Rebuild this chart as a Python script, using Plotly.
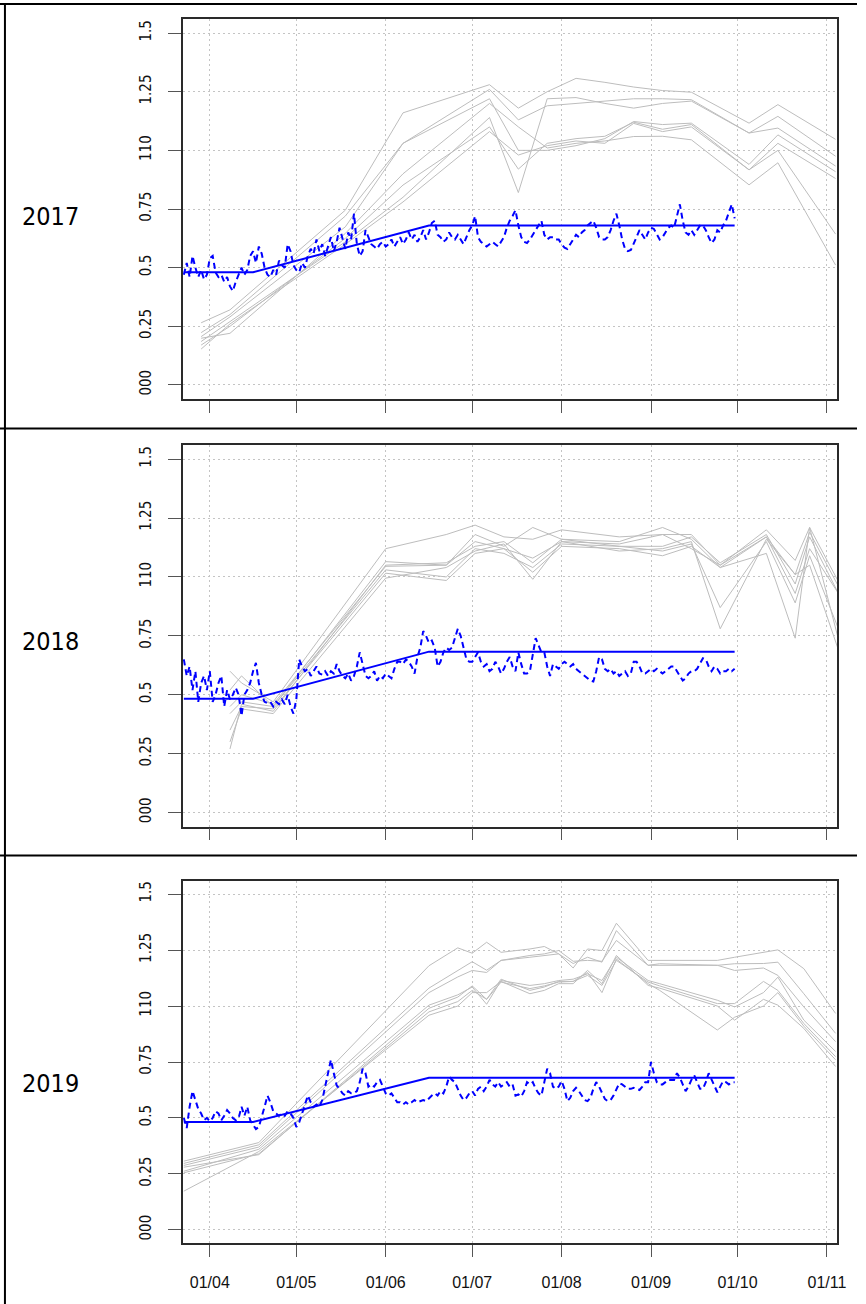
import plotly.graph_objects as go
import pandas as pd

W, H = 866, 1304

years = [2017, 2018, 2019]
month_ticks = ["04-01", "05-01", "06-01", "07-01", "08-01", "09-01", "10-01", "11-01"]
month_labels = ["01/04", "01/05", "01/06", "01/07", "01/08", "01/09", "01/10", "01/11"]
y_ticks = [0, 0.25, 0.5, 0.75, 1.0, 1.25, 1.5]
y_labels = ["000", "0.25", "0.5", "0.75", "110", "1.25", "1.5"]

# solid blue reference curve (vertices)
kc_dates = ["03-23", "04-16", "06-16", "09-30"]
kc_2017 = [0.48, 0.48, 0.68, 0.68]
kc_2018 = [0.483, 0.483, 0.683, 0.683]
kc_2019 = [0.482, 0.482, 0.68, 0.68]

# dashed blue daily series, 23 Mar .. 30 Sep
daily_start = "03-23"
daily_2017 = [
    0.47, 0.52, 0.46, 0.55, 0.50, 0.46, 0.49, 0.45, 0.47, 0.54,
    0.55, 0.48, 0.46, 0.47, 0.44, 0.46, 0.42, 0.40, 0.44, 0.47,
    0.50, 0.47, 0.49, 0.55, 0.57, 0.52, 0.59, 0.56, 0.50, 0.47,
    0.46, 0.49, 0.47, 0.53, 0.51, 0.50, 0.60, 0.57, 0.51, 0.49,
    0.48, 0.52, 0.50, 0.55, 0.58, 0.56, 0.62, 0.57, 0.60, 0.55,
    0.59, 0.63, 0.57, 0.61, 0.67, 0.62, 0.58, 0.65, 0.62, 0.73,
    0.60, 0.55, 0.57, 0.66, 0.63, 0.60, 0.59, 0.58, 0.60, 0.61,
    0.59, 0.60, 0.62, 0.59, 0.61, 0.63, 0.60, 0.62, 0.65, 0.62,
    0.64, 0.61, 0.63, 0.66, 0.62, 0.65, 0.69, 0.70, 0.64, 0.63,
    0.61, 0.62, 0.65, 0.63, 0.62, 0.64, 0.62, 0.60, 0.63, 0.66,
    0.68, 0.72, 0.63, 0.61, 0.60, 0.59, 0.60, 0.61, 0.60, 0.59,
    0.61, 0.63, 0.67, 0.70, 0.72, 0.745, 0.68, 0.63, 0.61, 0.605,
    0.62, 0.64, 0.66, 0.68, 0.70, 0.64, 0.62, 0.63, 0.63, 0.62,
    0.62, 0.60, 0.585, 0.58, 0.60, 0.62, 0.64, 0.63, 0.65, 0.66,
    0.68, 0.69, 0.70, 0.67, 0.63, 0.62, 0.62, 0.63, 0.66, 0.70,
    0.73, 0.68, 0.62, 0.58, 0.57, 0.575, 0.60, 0.63, 0.66, 0.64,
    0.62, 0.65, 0.67, 0.665, 0.64, 0.62, 0.63, 0.65, 0.67, 0.68,
    0.67, 0.72, 0.77, 0.70, 0.65, 0.64, 0.66, 0.64, 0.66, 0.68,
    0.68, 0.66, 0.63, 0.605, 0.62, 0.66, 0.65, 0.68, 0.70, 0.74,
    0.77, 0.71,
]
daily_2018 = [
    0.65, 0.58, 0.62, 0.52, 0.60, 0.47, 0.55, 0.58, 0.52, 0.60,
    0.47, 0.50, 0.55, 0.58, 0.45, 0.52, 0.48, 0.50, 0.53, 0.50,
    0.41, 0.50, 0.52, 0.55, 0.60, 0.635, 0.55, 0.50, 0.47, 0.465,
    0.47, 0.45, 0.47, 0.46, 0.48, 0.46, 0.50, 0.45, 0.42, 0.48,
    0.65, 0.62, 0.60, 0.61, 0.58, 0.60, 0.62, 0.59, 0.585, 0.60,
    0.58, 0.60, 0.59, 0.63, 0.60, 0.58, 0.57, 0.59, 0.56, 0.58,
    0.62, 0.68, 0.63, 0.58, 0.57, 0.58, 0.60, 0.56, 0.58, 0.57,
    0.59, 0.58, 0.57, 0.61, 0.64, 0.64, 0.63, 0.65, 0.64, 0.62,
    0.59, 0.66, 0.70, 0.77, 0.75, 0.72, 0.73, 0.70, 0.62, 0.64,
    0.68, 0.70, 0.69, 0.70, 0.74, 0.78, 0.75, 0.70, 0.65, 0.64,
    0.64, 0.66, 0.68, 0.64, 0.62, 0.63, 0.60, 0.61, 0.64, 0.62,
    0.59, 0.61, 0.64, 0.66, 0.62, 0.60, 0.68, 0.63, 0.59, 0.59,
    0.60, 0.67, 0.74, 0.71, 0.68, 0.68, 0.62, 0.58, 0.63, 0.62,
    0.61, 0.63, 0.64, 0.63, 0.62, 0.63, 0.61, 0.60, 0.59, 0.58,
    0.57, 0.56, 0.556, 0.60, 0.66, 0.65, 0.61, 0.60, 0.61, 0.59,
    0.60, 0.58, 0.59, 0.60, 0.58, 0.59, 0.64, 0.64, 0.62, 0.59,
    0.59, 0.60, 0.61, 0.60, 0.61, 0.60, 0.59, 0.60, 0.61, 0.62,
    0.62, 0.60, 0.58, 0.56, 0.57, 0.59, 0.60, 0.60, 0.61, 0.63,
    0.655, 0.65, 0.62, 0.60, 0.62, 0.61, 0.59, 0.60, 0.60, 0.61,
    0.60, 0.61,
]
daily_2019 = [
    0.50, 0.455, 0.55, 0.62, 0.58, 0.54, 0.52, 0.49, 0.50, 0.485,
    0.50, 0.53, 0.52, 0.49, 0.51, 0.535, 0.52, 0.50, 0.49, 0.50,
    0.55, 0.51, 0.55, 0.49, 0.47, 0.45, 0.46, 0.50, 0.55, 0.60,
    0.57, 0.53, 0.52, 0.51, 0.52, 0.51, 0.53, 0.52, 0.50, 0.46,
    0.48, 0.52, 0.56, 0.60, 0.57, 0.55, 0.56, 0.55, 0.58, 0.64,
    0.70, 0.76, 0.70, 0.645, 0.63, 0.61, 0.60, 0.62, 0.61, 0.61,
    0.62, 0.66, 0.72, 0.70, 0.64, 0.65, 0.64, 0.66, 0.67, 0.64,
    0.61, 0.60, 0.61, 0.59, 0.57, 0.57, 0.56, 0.57, 0.56, 0.57,
    0.58, 0.57, 0.575, 0.58, 0.575, 0.59, 0.60, 0.61, 0.60, 0.62,
    0.61, 0.64, 0.685, 0.67, 0.66, 0.63, 0.60, 0.58, 0.59, 0.61,
    0.62, 0.60, 0.63, 0.64, 0.62, 0.64, 0.67, 0.65, 0.64, 0.66,
    0.64, 0.65, 0.66, 0.64, 0.65, 0.60, 0.605, 0.595, 0.62, 0.66,
    0.65, 0.66, 0.63, 0.61, 0.60, 0.66, 0.72, 0.70, 0.64, 0.63,
    0.64, 0.665, 0.63, 0.575, 0.59, 0.62, 0.635, 0.62, 0.60, 0.58,
    0.575, 0.59, 0.63, 0.66, 0.64, 0.61, 0.585, 0.575, 0.58, 0.60,
    0.63, 0.655, 0.65, 0.64, 0.63, 0.63, 0.635, 0.63, 0.625, 0.64,
    0.66, 0.66, 0.75, 0.70, 0.66, 0.65, 0.65, 0.66, 0.67, 0.67,
    0.67, 0.70, 0.68, 0.65, 0.62, 0.64, 0.67, 0.69, 0.66, 0.63,
    0.63, 0.66, 0.70, 0.67, 0.64, 0.615, 0.64, 0.665, 0.66, 0.65,
    0.66, 0.66,
]

# grey satellite curves
gray_dates_2017 = ["03-29", "04-08", "05-18", "06-07", "07-07", "07-17", "07-27", "08-06",
                   "08-16", "08-26", "09-05", "09-15", "10-05", "10-15", "11-04"]
gray_2017 = [
    [0.265, 0.32, 0.745, 1.16, 1.28, 1.18, 1.25, 1.307, 1.29, 1.27, 1.255, 1.248, 1.116, 1.195, 1.047],
    [0.223, 0.30, 0.72, 1.03, 1.26, 1.13, 1.19, 1.20, 1.21, 1.22, 1.22, 1.216, 1.074, 1.145, 0.975],
    [0.185, 0.27, 0.61, 0.80, 1.14, 0.82, 1.22, 1.225, 1.20, 1.18, 1.20, 1.21, 1.074, 1.095, 0.933],
    [0.206, 0.29, 0.674, 1.03, 1.22, 1.00, 1.00, 1.02, 1.05, 1.123, 1.11, 1.116, 0.94, 1.066, 0.909],
    [0.170, 0.25, 0.625, 0.852, 1.10, 0.92, 1.03, 1.05, 1.06, 1.12, 1.09, 1.11, 0.917, 1.03, 0.88],
    [0.153, 0.26, 0.60, 0.78, 1.08, 0.98, 1.02, 1.04, 1.03, 1.115, 1.08, 1.10, 0.917, 1.0, 0.643],
    [0.199, 0.22, 0.646, 0.90, 1.20, 1.10, 1.01, 1.03, 1.04, 1.059, 1.06, 1.045, 0.853, 0.947, 0.511],
]
gray_dates_2018 = ["04-08", "04-12", "04-23", "06-01", "06-22", "07-02", "07-12", "07-22", "08-01",
                   "08-21", "09-05", "09-15", "09-25", "10-11", "10-21", "10-26", "11-05"]
gray_2018 = [
    [0.60, 0.55, 0.47, 1.12, 1.18, 1.22, 1.17, 1.16, 1.20, 1.17, 1.18, 1.18, 1.05, 1.20, 1.07, 1.21, 0.98],
    [0.52, 0.58, 0.45, 1.065, 1.05, 1.18, 1.13, 1.21, 1.16, 1.15, 1.21, 1.16, 1.04, 1.17, 1.01, 1.19, 0.96],
    [0.45, 0.50, 0.46, 1.045, 1.05, 1.15, 1.12, 1.08, 1.15, 1.14, 1.18, 1.12, 1.05, 1.17, 0.93, 1.12, 0.93],
    [0.42, 0.47, 0.45, 1.03, 1.00, 1.12, 1.10, 1.04, 1.14, 1.13, 1.11, 1.14, 0.87, 1.15, 0.89, 1.09, 0.78],
    [0.35, 0.45, 0.44, 1.016, 0.985, 1.10, 1.12, 1.02, 1.13, 1.12, 1.09, 1.13, 1.04, 1.10, 0.74, 1.21, 0.735],
    [0.30, 0.44, 0.42, 0.995, 1.04, 1.11, 1.14, 0.99, 1.15, 1.11, 1.12, 1.15, 0.78, 1.16, 1.01, 1.05, 0.69],
    [0.27, 0.46, 0.43, 1.05, 1.06, 1.13, 1.15, 1.06, 1.16, 1.13, 1.13, 1.17, 1.06, 1.18, 0.97, 1.17, 0.93],
]
gray_dates_2019 = ["03-23", "04-18", "06-16", "06-26", "07-01", "07-06", "07-11", "07-21", "07-26",
                   "07-31", "08-05", "08-10", "08-15", "08-20", "08-31", "09-04", "09-24", "09-30",
                   "10-10", "10-15", "10-24", "11-04"]
gray_2019 = [
    [0.307, 0.39, 1.18, 1.26, 1.236, 1.285, 1.24, 1.255, 1.266, 1.233, 1.17, 1.255, 1.248, 1.37, 1.204, 1.204, 1.204, 1.218, 1.24, 1.251, 1.167, 0.967],
    [0.297, 0.38, 1.08, 1.16, 1.198, 1.16, 1.204, 1.218, 1.226, 1.233, 1.19, 1.218, 1.196, 1.337, 1.182, 1.189, 1.182, 1.189, 1.19, 1.196, 1.055, 0.878],
    [0.288, 0.37, 1.06, 1.13, 1.159, 1.15, 1.204, 1.226, 1.233, 1.248, 1.20, 1.204, 1.20, 1.293, 1.182, 1.182, 1.182, 1.159, 1.17, 1.137, 0.996, 0.841],
    [0.262, 0.36, 1.004, 1.05, 1.085, 1.008, 1.114, 1.092, 1.10, 1.114, 1.12, 1.144, 1.114, 1.218, 1.114, 1.10, 1.026, 0.996, 1.06, 1.129, 0.937, 0.797],
    [0.255, 0.34, 0.974, 1.02, 1.07, 1.03, 1.107, 1.078, 1.09, 1.107, 1.11, 1.137, 1.092, 1.204, 1.107, 1.09, 1.011, 1.011, 1.11, 1.07, 0.922, 0.774],
    [0.173, 0.35, 0.959, 1.00, 1.06, 1.06, 1.11, 1.055, 1.07, 1.10, 1.10, 1.159, 1.10, 1.226, 1.092, 1.08, 1.00, 0.937, 1.03, 1.004, 0.90, 0.730],
    [0.28, 0.336, 0.99, 1.04, 1.09, 1.03, 1.12, 1.07, 1.085, 1.11, 1.11, 1.15, 1.06, 1.21, 1.10, 1.07, 0.893, 0.95, 1.0, 1.06, 0.91, 0.76],
]

kc_all = {2017: kc_2017, 2018: kc_2018, 2019: kc_2019}
daily_all = {2017: daily_2017, 2018: daily_2018, 2019: daily_2019}
gray_dates_all = {2017: gray_dates_2017, 2018: gray_dates_2018, 2019: gray_dates_2019}
gray_all = {2017: gray_2017, 2018: gray_2018, 2019: gray_2019}

# ---- layout geometry (pixels) ----
plot_left, plot_right = 184.5, 846.0
panel_px = [(19.0, 399.0), (445.0, 826.7), (880.7, 1243.3)]   # (top, bottom)
label_y = [217, 641, 1083]
sep_y = [4, 428.5, 855.5]

NARROW = "Liberation Sans Narrow, Arial Narrow, DejaVu Sans Condensed, sans-serif"
REG = "Liberation Sans, Arial, Helvetica, sans-serif"
GRID = "#c4c4c4"
FRAME = "#2a2a2a"

fig = go.Figure()
layout = dict(
    width=W, height=H, autosize=False, margin=dict(l=0, r=0, t=0, b=0),
    paper_bgcolor="white", plot_bgcolor="white", showlegend=False,
)

for i, yr in enumerate(years):
    k = "" if i == 0 else str(i + 1)
    xa, ya = "x" + k, "y" + k
    gd = [f"{yr}-{d}" for d in gray_dates_all[yr]]
    for vals in gray_all[yr]:
        fig.add_trace(go.Scatter(x=gd, y=vals, mode="lines", xaxis=xa, yaxis=ya,
                                 line=dict(color="#bdbdbd", width=1), hoverinfo="skip"))
    dd = pd.date_range(f"{yr}-{daily_start}", periods=len(daily_all[yr]), freq="D")
    fig.add_trace(go.Scatter(x=dd, y=daily_all[yr], mode="lines", xaxis=xa, yaxis=ya,
                             line=dict(color="#0000ff", width=2, dash="6px,4px")))
    kd = [f"{yr}-{d}" for d in kc_dates]
    fig.add_trace(go.Scatter(x=kd, y=kc_all[yr], mode="lines", xaxis=xa, yaxis=ya,
                             line=dict(color="#0000ff", width=2)))

    top, bot = panel_px[i]
    start = pd.Timestamp(f"{yr}-04-01") + pd.Timedelta(days=(plot_left - 212.0) / 2.914)
    end = pd.Timestamp(f"{yr}-04-01") + pd.Timedelta(days=(plot_right - 212.0) / 2.914)
    layout["xaxis" + k] = dict(
        domain=[plot_left / W, plot_right / W], anchor=ya, type="date",
        range=[start, end],
        tickvals=[f"{yr}-{m}" for m in month_ticks], ticktext=month_labels,
        showticklabels=(i == 2), ticks="outside", ticklen=12, tickwidth=1.3, tickcolor="#555",
        showgrid=True, gridcolor=GRID, griddash="2px,3px", gridwidth=1,
        showline=True, mirror=True, linecolor=FRAME, linewidth=1.5, zeroline=False,
        tickfont=dict(family=REG, size=16, color="#111"), ticklabelstandoff=12,
    )
    layout["yaxis" + k] = dict(
        domain=[1 - bot / H, 1 - top / H], anchor=xa, range=[-0.06, 1.56],
        tickvals=y_ticks, ticktext=y_labels, tickangle=-90,
        ticks="outside", ticklen=13, tickwidth=1.3, tickcolor="#555",
        showgrid=True, gridcolor=GRID, griddash="2px,3px", gridwidth=1,
        showline=True, mirror=True, linecolor=FRAME, linewidth=1.5, zeroline=False,
        tickfont=dict(family=NARROW, size=15, color="#111"), ticklabelstandoff=11,
    )

annotations = []
for i, yr in enumerate(years):
    annotations.append(dict(text=str(yr), xref="paper", yref="paper", x=20 / W, y=1 - label_y[i] / H,
                            xanchor="left", yanchor="middle", showarrow=False,
                            font=dict(family=NARROW, size=25, color="#000")))
layout["annotations"] = annotations

shapes = []
for sy in sep_y:
    shapes.append(dict(type="line", xref="paper", yref="paper", x0=0, x1=1,
                       y0=1 - sy / H, y1=1 - sy / H, line=dict(color="#000", width=2)))
shapes.append(dict(type="line", xref="paper", yref="paper", x0=5 / W, x1=5 / W,
                   y0=0, y1=1 - 4 / H, line=dict(color="#000", width=2)))
layout["shapes"] = shapes

fig.update_layout(**layout)
fig.write_html(
    "out.html",
    config={"displayModeBar": False, "responsive": False},
    post_script=("document.body.style.margin='0';"
                 "document.body.style.overflow='hidden';"
                 "document.documentElement.style.overflow='hidden';"),
)
